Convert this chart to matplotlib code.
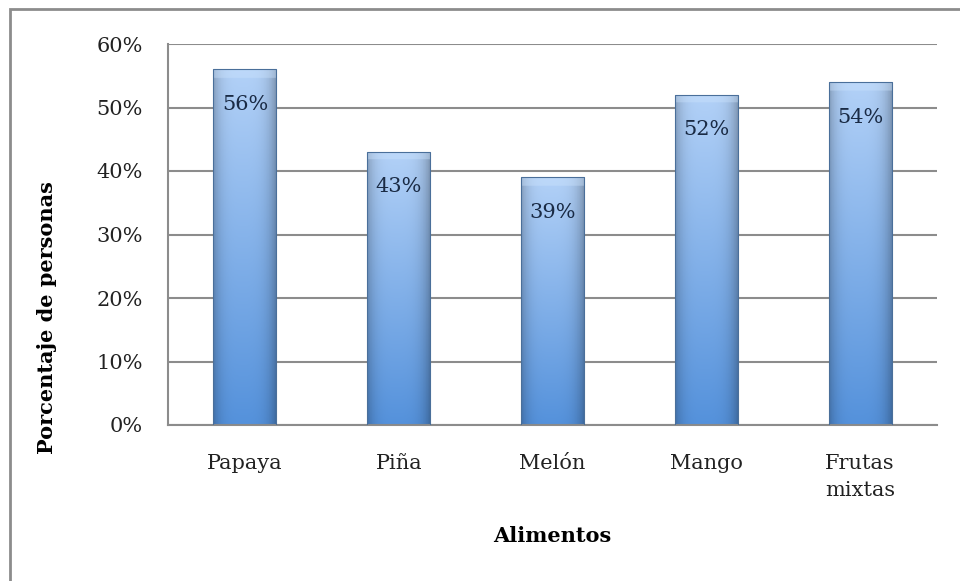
import matplotlib.pyplot as plt
import numpy as np
from matplotlib.patches import Rectangle

# Datos
alimentos = ["Papaya", "Piña", "Melón", "Mango", "Frutas\nmixtas"]
porcentajes = [56, 43, 39, 52, 54]
ticks_y = [0, 10, 20, 30, 40, 50, 60]

plt.rcParams["font.family"] = ["DejaVu Serif"]

fig = plt.figure(figsize=(9.6, 5.81), dpi=100)
ax = fig.add_axes([168 / 960, 1 - 425 / 581, (937 - 168) / 960, (425 - 44) / 581])

# borde del grafico
fig.patches.append(Rectangle((10 / 960, -0.1), 1.2, 1 - 9 / 581 + 0.1,
                             transform=fig.transFigure, fill=False,
                             edgecolor="#8c8c8c", linewidth=2))

x = np.arange(len(alimentos))
barras = ax.bar(x, porcentajes, width=0.41, color="none", edgecolor="#4a6f9a",
                linewidth=0.8, zorder=3)

# degradado tipo Excel
arriba = np.array([0.70, 0.82, 0.97])
abajo = np.array([0.33, 0.57, 0.86])
for b in barras:
    x0, w, h = b.get_x(), b.get_width(), b.get_height()
    t = np.linspace(0, 1, 200)[:, None]
    u = np.linspace(0, 1, 40)[None, :]
    base = abajo[None, None, :] + (arriba - abajo)[None, None, :] * t[:, :, None]
    sombra = 1 - 0.22 * np.abs(2 * u - 1) ** 4
    sombra = sombra - 0.06 * (u > 0.5) * (2 * u - 1) ** 2
    img = base * sombra[:, :, None]
    # bisel superior
    bisel = (t > 1 - 8 / (h * 6.35)).astype(float)
    img = img * (1 - 0.4 * bisel[:, :, None]) + 0.4 * bisel[:, :, None] * np.array([0.80, 0.89, 0.99])
    img = np.clip(img, 0, 1)
    im = ax.imshow(img, origin="lower", extent=(x0, x0 + w, 0, h), aspect="auto", zorder=2)
    im.set_clip_path(b)
    ax.text(b.get_x() + w / 2, h - 5.5, f"{h:.0f}%", ha="center", va="center",
            fontsize=15, color="#1a2b45", zorder=4)

ax.set_xlim(-0.5, len(alimentos) - 0.5)
ax.set_ylim(0, 60)
ax.set_yticks(ticks_y)
ax.set_yticklabels([f"{v}%" for v in ticks_y], fontsize=15)
ax.set_xticks(x)
ax.set_xticklabels(alimentos, fontsize=15, linespacing=1.5, va="top")
ax.tick_params(axis="x", length=0, pad=21, colors="#222222")
ax.tick_params(axis="y", length=0, pad=18, colors="#222222")
ax.grid(axis="y", color="#8c8c8c", linewidth=1.5, zorder=1)
ax.set_axisbelow(True)
for s in ["top", "right"]:
    ax.spines[s].set_visible(False)
for s in ["left", "bottom"]:
    ax.spines[s].set_color("#8c8c8c")
    ax.spines[s].set_linewidth(1.5)

fig.text(47 / 960, 1 - 318 / 581, "Porcentaje de personas", rotation=90,
         ha="center", va="center", fontsize=15, fontweight="bold")
fig.text(552 / 960, 1 - 536 / 581, "Alimentos", ha="center", va="center",
         fontsize=15, fontweight="bold")

plt.savefig("out.png", dpi=100)
